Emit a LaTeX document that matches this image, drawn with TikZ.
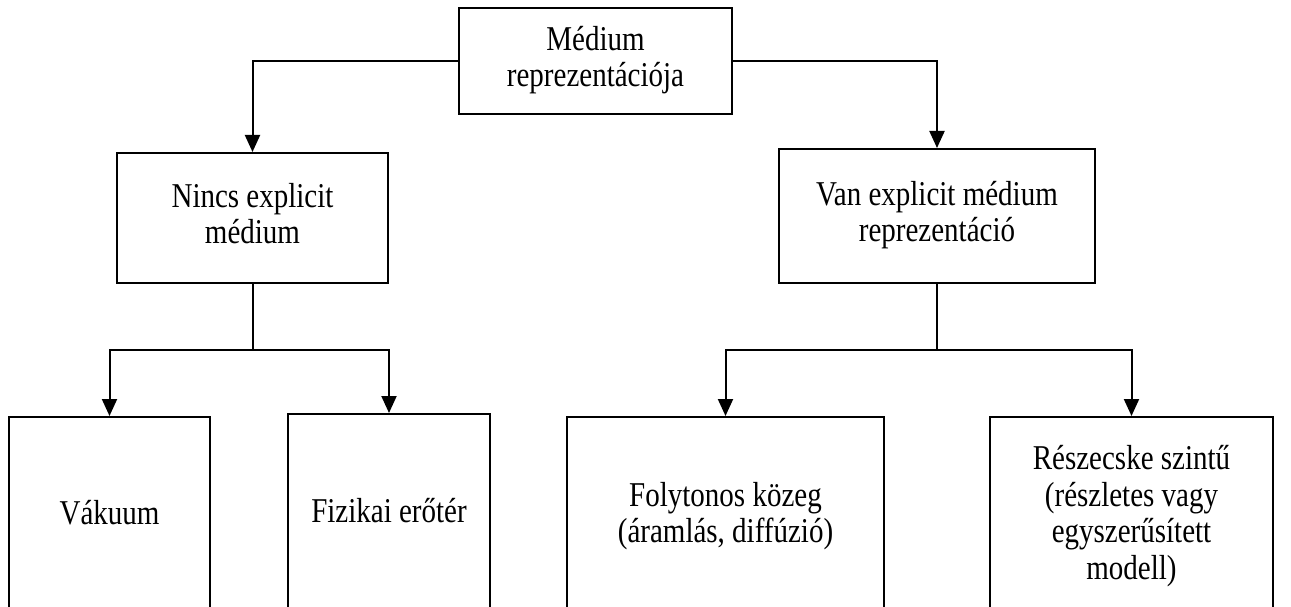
\documentclass[tikz,border=0pt]{standalone}
\usepackage{fontspec}
\setmainfont{Liberation Serif}
\usetikzlibrary{arrows.meta}
% slightly tall lettering: text block stretched vertically
\newcommand{\tall}[1]{\scalebox{1}[1.2]{\begin{tabular}{@{}c@{}}#1\end{tabular}}}
\begin{document}
\begin{tikzpicture}[x=1pt,y=-1pt,
  box/.style={draw,line width=2pt,inner sep=0pt,align=center,
    font=\fontsize{29}{30.5}\selectfont},
  arr/.style={line width=2pt,-{Triangle[width=15pt,length=17pt]}},
  link/.style={line width=2pt}]
\clip (0,0) rectangle (1291,607);
% root and second level
\node[box,minimum width=273pt,minimum height=106pt] (root) at (595.5,61) {\tall{Médium\\reprezentációja}};
\node[box,minimum width=271pt,minimum height=130pt] (none) at (252.5,218) {\tall{Nincs explicit\\médium}};
\node[box,minimum width=316pt,minimum height=134pt] (expl) at (937,216) {\tall{Van explicit médium\\reprezentáció}};
% leaves (open at the lower edge)
\node[box,minimum width=201pt,minimum height=200pt] (vac) at (109.5,517) {\tall{Vákuum}};
\node[box,minimum width=202pt,minimum height=203pt] (field) at (389,515.5) {\tall{Fizikai erőtér}};
\node[box,minimum width=317pt,minimum height=200pt] (cont) at (725.5,517) {\tall{Folytonos közeg\\(áramlás, diffúzió)}};
\node[box,minimum width=283pt,minimum height=200pt] (part) at (1131.5,517) {\tall{Részecske szintű\\(részletes vagy\\egyszerűsített\\modell)}};
% connectors
\draw[arr] (root.west) -| (none.north);
\draw[arr] (root.east) -| (expl.north);
\draw[link] (none.south) -- ++(0,66) coordinate (jl);
\draw[arr] (jl) -| (vac.north);
\draw[arr] (jl) -| (field.north);
\draw[link] (expl.south) -- ++(0,66) coordinate (jr);
\draw[arr] (jr) -| (cont.north);
\draw[arr] (jr) -| (part.north);
\end{tikzpicture}
\end{document}
